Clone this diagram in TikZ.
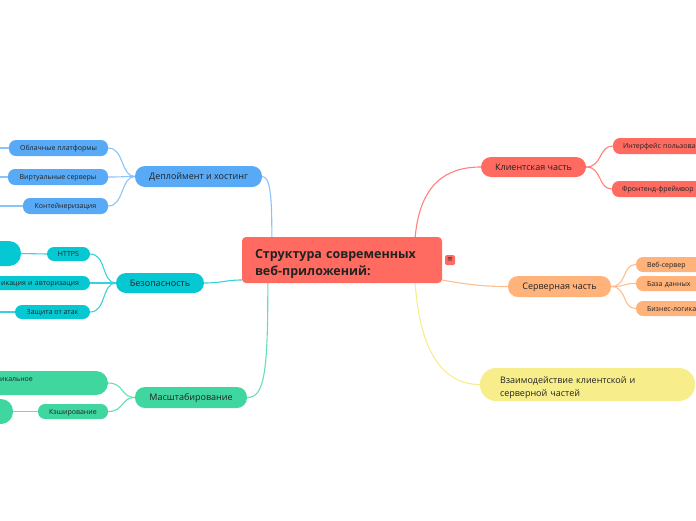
\documentclass[tikz,border=0pt]{standalone}
\usepackage{fontspec}
\setmainfont{Open Sans}
\newfontfamily\dejavu{DejaVu Sans}
\definecolor{cred}{HTML}{FF6B61}
\definecolor{cblue}{HTML}{58AAF6}
\definecolor{cteal}{HTML}{05C8D2}
\definecolor{cgreen}{HTML}{40D6A0}
\definecolor{corange}{HTML}{FFB27A}
\definecolor{cyellow}{HTML}{F7EE8B}
\definecolor{txt}{HTML}{222222}
\begin{document}
\begin{tikzpicture}[x=1pt,y=-1pt,
  topic/.style={rounded corners=10pt, inner sep=0pt, minimum height=21pt, text height=6.5pt, text depth=0pt, font=\fontsize{9}{11}\selectfont, text=txt},
  sub/.style={rounded corners=7pt, inner sep=0pt, minimum height=15pt, text height=5pt, text depth=0pt, font=\fontsize{7}{8.5}\selectfont, text=txt},
  bigsub/.style={rounded corners=12pt, inner sep=0pt, minimum height=25pt},
  conn/.style={line width=1.1pt},
  bconn/.style={conn, draw=cblue!70!white},
  tconn/.style={conn, draw=cteal!80!white},
  gconn/.style={conn, draw=cgreen!80!white},
  rconn/.style={conn, draw=cred!85!white},
  oconn/.style={conn, draw=corange!85!white},
  yconn/.style={conn, draw=cyellow},
]
\useasboundingbox (0,0) rectangle (696,520);
\clip (0,0) rectangle (696,520);

% central
\node[fill=cred, rounded corners=4pt, inner sep=0pt, minimum width=200pt, minimum height=46pt,
  text width=174pt, align=left, text height=10pt, text depth=14pt,
  font=\fontsize{12.5}{17}\bfseries\selectfont, text=txt]
  (central) at (342,260) {Структура современных\\веб-приложений:};
\node[fill=cred, rounded corners=1.5pt, inner sep=0pt, minimum width=10pt, minimum height=10pt,
  font=\dejavu\fontsize{7}{7}\selectfont, text=txt] (icon) at (450,260) {≡};

% deployment
\node[topic, fill=cblue, minimum width=127pt] (deploy) at (198.5,176.5) {Деплоймент и хостинг};
\node[sub, fill=cblue, minimum width=99pt, minimum height=16pt] (obl) at (58.5,148) {Облачные платформы};
\node[sub, fill=cblue, minimum width=100pt, minimum height=16pt] (virt) at (58,177) {Виртуальные серверы};
\node[sub, fill=cblue, minimum width=85pt, minimum height=16pt] (kont) at (65.5,206) {Контейнеризация};

% security
\node[topic, fill=cteal, minimum width=88pt, minimum height=20pt] (sec) at (160,283) {Безопасность};
\node[sub, fill=cteal, minimum width=43pt, minimum height=14pt] (https) at (68.5,254) {HTTPS};
\node[sub, fill=cteal, minimum width=110pt, minimum height=14pt, text width=88pt, align=right] (auth) at (35,283) {икация и авторизация};
\node[sub, fill=cteal, minimum width=75pt, minimum height=14pt] (zas) at (52.5,312) {Защита от атак};
\node[bigsub, fill=cteal, minimum width=51pt] (httpsp) at (-4.5,253.5) {};

% scaling
\node[topic, fill=cgreen, minimum width=112pt] (scale) at (191,397.5) {Масштабирование};
\node[bigsub, fill=cgreen, minimum width=138pt, minimum height=24pt] (vert) at (39,383) {};
\node[inner sep=0pt, anchor=base west, font=\fontsize{7}{8.5}\selectfont, text=txt] (vertt) at (0,381) {икальное};
\node[sub, fill=cgreen, minimum width=70pt, minimum height=15pt] (cache) at (73,411.5) {Кэширование};
\node[bigsub, fill=cgreen, minimum width=43pt] (cachep) at (-8.5,411.5) {};

% client
\node[topic, fill=cred, minimum width=105pt, minimum height=20pt] (client) at (533.5,167) {Клиентская часть};
\node[sub, fill=cred, minimum width=107pt, minimum height=16pt, text width=87pt, align=left] (intf) at (666.5,146) {Интерфейс пользова};
\node[sub, fill=cred, minimum width=108pt, minimum height=16pt, text width=88pt, align=left] (front) at (666,189) {Фронтенд-фреймвор};

% server
\node[topic, fill=corange, minimum width=103pt] (server) at (559.5,286.5) {Серверная часть};
\node[sub, fill=corange, minimum width=84pt, text width=62pt, align=left] (web) at (678,264.5) {Веб-сервер};
\node[sub, fill=corange, minimum width=84pt, text width=62pt, align=left] (db) at (678,283.5) {База данных};
\node[sub, fill=corange, minimum width=84pt, text width=62pt, align=left] (biz) at (678,308.5) {Бизнес-логика};

% interaction
\node[fill=cyellow, rounded corners=16pt, inner sep=0pt, minimum width=215pt, minimum height=33pt,
  text width=175pt, align=left, text height=7pt, text depth=9pt,
  font=\fontsize{9}{13}\selectfont, text=txt]
  (inter) at (587.5,384.5) {Взаимодействие клиентской и\\серверной частей};

% central connectors
\draw[bconn] ([xshift=30pt]central.north west) .. controls (272,195) and (270,176.5) .. (deploy.east);
\draw[tconn] ([yshift=-20pt]central.west) .. controls (225,280) and (222,283) .. (sec.east);
\draw[gconn] ([xshift=26pt]central.south west) .. controls (268,375) and (264,397.5) .. (scale.east);
\draw[rconn] ([xshift=-27pt]central.north east) .. controls (420,185) and (445,167) .. (client.west);
\draw[oconn] ([yshift=-20pt]central.east) .. controls (470,285) and (485,286.5) .. (server.west);
\draw[yconn] ([xshift=-27pt]central.south east) .. controls (420,355) and (445,384.5) .. (inter.west);

% deployment children
\foreach \c in {obl,virt,kont}{
  \draw[bconn] (\c.east) .. controls +(16,0) and +(-14,0) .. (deploy.west);
  \draw[bconn] (\c.west) -- ++(-30,0);
}
% security children
\foreach \c in {https,auth,zas}{
  \draw[tconn] (\c.east) .. controls +(16,0) and +(-14,0) .. (sec.west);
}
\draw[tconn] (httpsp.east) -- (https.west);
\draw[tconn] (zas.west) -- ++(-30,0);
% scaling children
\foreach \c in {vert,cache}{
  \draw[gconn] (\c.east) .. controls +(16,0) and +(-14,0) .. (scale.west);
}
\draw[gconn] (cachep.east) -- (cache.west);
% client children
\foreach \c in {intf,front}{
  \draw[rconn] (client.east) .. controls +(16,0) and +(-14,0) .. (\c.west);
}
% server children
\foreach \c in {web,db,biz}{
  \draw[oconn] (server.east) .. controls +(16,0) and +(-14,0) .. (\c.west);
}
\end{tikzpicture}
\end{document}
